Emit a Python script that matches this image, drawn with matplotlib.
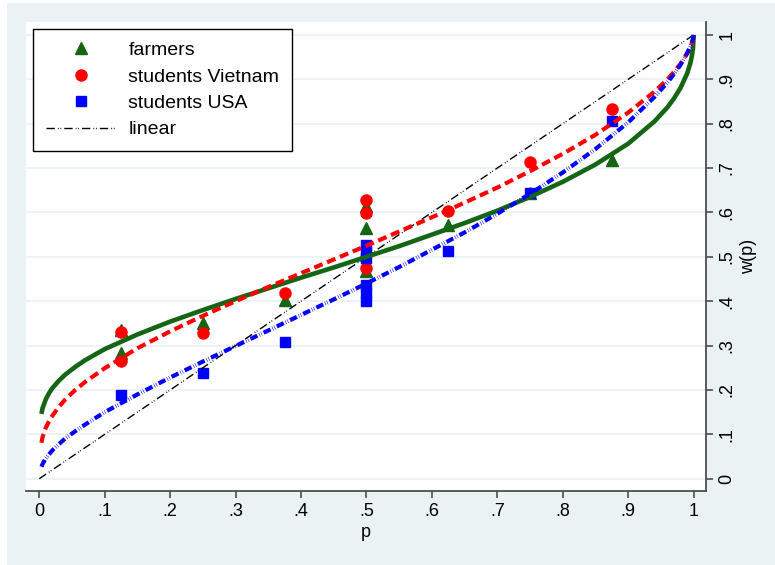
import matplotlib
matplotlib.use("Agg")
import matplotlib.pyplot as plt
from matplotlib.lines import Line2D
from matplotlib.patches import Rectangle

plt.rcParams["font.family"] = ["Liberation Sans", "DejaVu Sans"]
plt.rcParams["lines.scale_dashes"] = False

# fitted weighting curves
p_curve = [0.0033, 0.005, 0.01, 0.015, 0.02, 0.03, 0.04, 0.055, 0.07, 0.1, 0.15, 0.2, 0.25,
           0.3, 0.35, 0.4, 0.45, 0.5, 0.55, 0.6, 0.65, 0.7, 0.75, 0.8, 0.85, 0.9, 0.94, 0.96,
           0.97, 0.98, 0.99, 0.995, 0.997, 0.999, 1.0]
w_farmers = [0.146, 0.159, 0.179, 0.193, 0.204, 0.221, 0.235, 0.252, 0.267, 0.292, 0.325, 0.354,
             0.380, 0.405, 0.429, 0.453, 0.476, 0.500, 0.524, 0.550, 0.576, 0.604, 0.635, 0.669,
             0.708, 0.755, 0.805, 0.837, 0.857, 0.881, 0.913, 0.937, 0.951, 0.970, 1.0]
w_vietnam = [0.081, 0.094, 0.115, 0.130, 0.142, 0.162, 0.179, 0.200, 0.218, 0.249, 0.294, 0.332,
             0.367, 0.400, 0.432, 0.463, 0.494, 0.525, 0.557, 0.589, 0.622, 0.656, 0.693, 0.732,
             0.775, 0.825, 0.872, 0.900, 0.917, 0.935, 0.958, 0.973, 0.980, 0.990, 1.0]
w_usa = [0.027, 0.033, 0.046, 0.055, 0.064, 0.078, 0.091, 0.107, 0.122, 0.150, 0.190, 0.228,
         0.264, 0.299, 0.334, 0.369, 0.404, 0.440, 0.477, 0.516, 0.555, 0.597, 0.642, 0.690,
         0.743, 0.803, 0.860, 0.893, 0.912, 0.933, 0.959, 0.974, 0.982, 0.992, 1.0]
p_linear = [0.0, 1.0]
w_linear = [0.0, 1.0]

# observed points
farmers_p = [0.125, 0.125, 0.25, 0.375, 0.5, 0.5, 0.5, 0.625, 0.75, 0.875]
farmers_w = [0.335, 0.283, 0.350, 0.403, 0.615, 0.564, 0.468, 0.572, 0.643, 0.717]
vietnam_p = [0.125, 0.125, 0.25, 0.375, 0.5, 0.5, 0.5, 0.625, 0.75, 0.875]
vietnam_w = [0.331, 0.265, 0.328, 0.418, 0.628, 0.598, 0.474, 0.603, 0.713, 0.832]
usa_p = [0.125, 0.25, 0.375, 0.5, 0.5, 0.5, 0.5, 0.5, 0.5, 0.625, 0.75, 0.875]
usa_w = [0.189, 0.239, 0.309, 0.526, 0.511, 0.497, 0.436, 0.418, 0.400, 0.513, 0.643, 0.806]

ticks = [0, 0.1, 0.2, 0.3, 0.4, 0.5, 0.6, 0.7, 0.8, 0.9, 1.0]
tick_labels = ["0", ".1", ".2", ".3", ".4", ".5", ".6", ".7", ".8", ".9", "1"]

GREEN = "#146614"
BG = "#eaf2f3"
AXC = "#4d4d4d"
LIN_DASH = [6, 2.2, 0.6, 1.2, 0.6, 2.2]

fig = plt.figure(figsize=(7.75, 5.65), dpi=100, facecolor="white")
fig.patches.append(Rectangle((7 / 775, 0), 1, 1 - 3 / 565, transform=fig.transFigure,
                             facecolor=BG, edgecolor="none", zorder=-10))
ax = fig.add_axes([26 / 775, 1 - 490.7 / 565, 680 / 775, 468.7 / 565])
ax.set_facecolor("white")

# scatter first, then curves on top
ax.plot(farmers_p, farmers_w, linestyle="none", marker="^", ms=8, color=GREEN, zorder=3)
ax.plot(vietnam_p, vietnam_w, linestyle="none", marker="o", ms=8, color="red", zorder=3)
ax.plot(usa_p, usa_w, linestyle="none", marker="s", ms=7.5, color="blue", zorder=3)

ax.plot(p_linear, w_linear, color="black", lw=1.0, dashes=LIN_DASH, zorder=4)
ax.plot(p_curve, w_farmers, color=GREEN, lw=3.3, solid_capstyle="butt", zorder=4)
ax.plot(p_curve, w_vietnam, color="red", lw=3.0, dashes=[6.5, 3.5], zorder=4)
ax.plot(p_curve, w_usa, color="blue", lw=3.0, dashes=[5.5, 1.5, 0.4, 1.2, 0.4, 1.5], zorder=4)

ax.set_xlim(-0.0203, 1.0188)
ax.set_ylim(-0.027, 1.029)
ax.set_xticks(ticks)
ax.set_xticklabels(tick_labels)
ax.set_yticks(ticks)
ax.set_yticklabels(tick_labels, rotation=90, va="center")
ax.yaxis.tick_right()
ax.yaxis.set_label_position("right")
ax.grid(axis="y", color=BG, lw=1.3, zorder=0)
ax.set_axisbelow(True)

for side in ["left", "top"]:
    ax.spines[side].set_visible(False)
for side in ["bottom", "right"]:
    ax.spines[side].set_color(AXC)
    ax.spines[side].set_linewidth(1.3)
ax.tick_params(axis="both", direction="out", length=5, width=1.2, color=AXC,
               labelsize=13, pad=4, labelcolor="black")

ax.set_xlabel("p", fontsize=13, labelpad=3)
ax.set_ylabel("w(p)", fontsize=13, rotation=90, labelpad=3)

handles = [
    Line2D([], [], linestyle="none", marker="^", ms=8, color=GREEN),
    Line2D([], [], linestyle="none", marker="o", ms=8, color="red"),
    Line2D([], [], linestyle="none", marker="s", ms=7.5, color="blue"),
    Line2D([], [], color="black", lw=1.0, dashes=LIN_DASH),
]
labels = ["farmers", "students Vietnam", "students USA", "linear"]
leg = ax.legend(handles, labels, loc="upper left", bbox_to_anchor=(0.0103, 0.985),
                borderaxespad=0, fontsize=14, handlelength=3.6, handletextpad=0.65,
                labelspacing=0.45, borderpad=0.65, fancybox=False, framealpha=1,
                edgecolor="black")
leg.get_frame().set_linewidth(1.0)

fig.savefig("out.png", dpi=100, facecolor=fig.get_facecolor())
